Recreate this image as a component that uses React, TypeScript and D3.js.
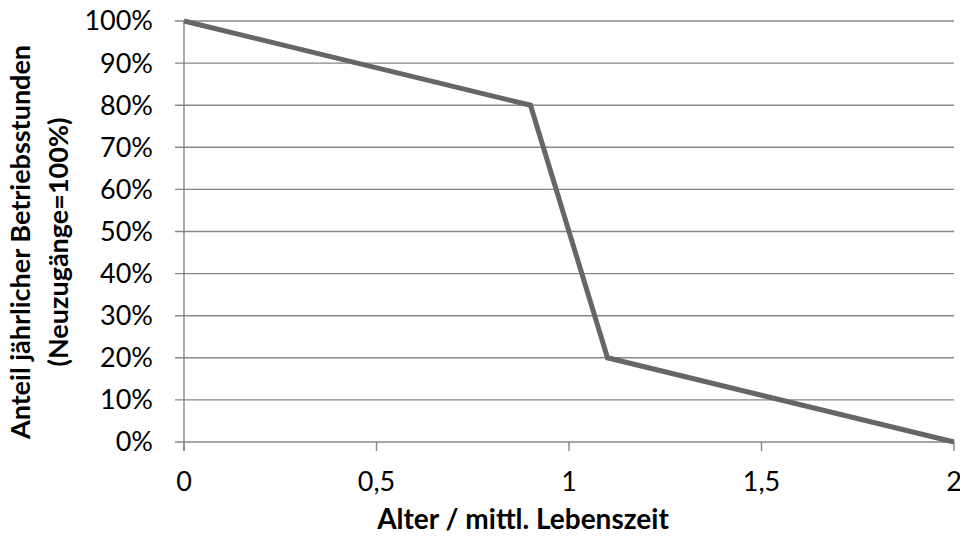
import React from "react";
import * as d3 from "d3";

const xValues = [0, 0.9, 1.1, 2];
const yValues = [1, 0.8, 0.2, 0];
const xTicks = [0, 0.5, 1, 1.5, 2];
const yTicks = [0, 0.1, 0.2, 0.3, 0.4, 0.5, 0.6, 0.7, 0.8, 0.9, 1];
const yTitle = ["Anteil jährlicher Betriebsstunden", "(Neuzugänge=100%)"];
const xTitle = "Alter / mittl. Lebenszeit";

export default function App() {
  const W = 960, H = 541;
  const left = 184, right = 954, top = 21, bottom = 442;
  const x = d3.scaleLinear().domain([0, 2]).range([left, right]);
  const y = d3.scaleLinear().domain([0, 1]).range([bottom, top]);
  const line = d3.line<number>().x((_, i) => x(xValues[i])).y((d) => y(d));
  const font = "Lato, Carlito, 'Open Sans', sans-serif";
  const fmtX = (v: number) => String(v).replace(".", ",");
  return (
    <svg width={W} height={H} style={{ position: "absolute", left: 0, top: 0, background: "#fff" }} fontFamily={font}>
      {yTicks.map((t) => (
        <g key={t}>
          <line x1={left - 9} x2={right} y1={y(t)} y2={y(t)} stroke="#878787" strokeWidth={1.4} />
          <text x={153} y={y(t)} dy="0.35em" textAnchor="end" fontSize={27} fill="#000">
            {Math.round(t * 100)}%
          </text>
        </g>
      ))}
      <line x1={left} x2={left} y1={top} y2={bottom + 9} stroke="#878787" strokeWidth={1.4} />
      {xTicks.map((t) => (
        <g key={t}>
          <line x1={x(t)} x2={x(t)} y1={bottom} y2={bottom + 9} stroke="#878787" strokeWidth={1.4} />
          <text x={x(t)} y={491} textAnchor="middle" fontSize={27} fill="#000">
            {fmtX(t)}
          </text>
        </g>
      ))}
      <path d={line(yValues) || ""} fill="none" stroke="#666666" strokeWidth={5} strokeLinejoin="miter" />
      <text x={523} y={529} textAnchor="middle" fontSize={28} fontWeight="bold" fill="#000">
        {xTitle}
      </text>
      <g transform="translate(30,242) rotate(-90)">
        <text x={0} y={0} textAnchor="middle" fontSize={27} fontWeight="bold" fill="#000">
          {yTitle[0]}
        </text>
        <text x={0} y={38} textAnchor="middle" fontSize={27} fontWeight="bold" fill="#000">
          {yTitle[1]}
        </text>
      </g>
    </svg>
  );
}
